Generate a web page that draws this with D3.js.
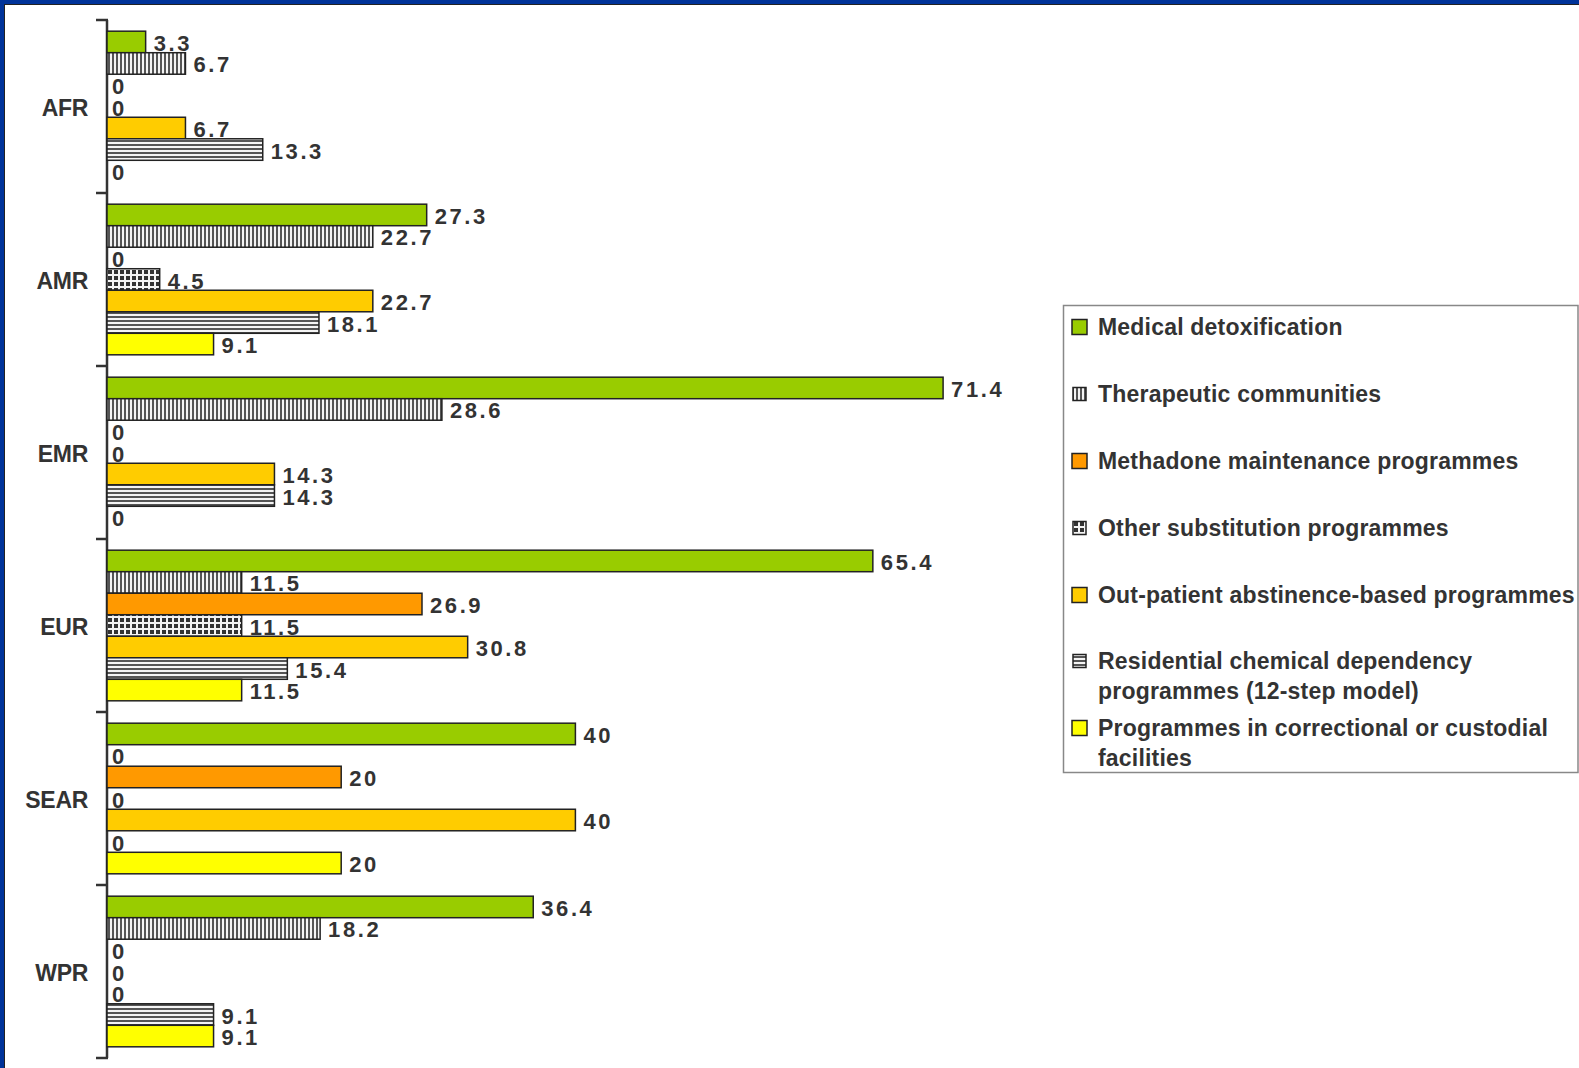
<!DOCTYPE html>
<html>
<head>
<meta charset="utf-8">
<script src="https://cdn.jsdelivr.net/npm/d3@7"></script>
<style>
  body { margin: 0; background: #ffffff; }
  svg text { font-family: "Liberation Sans", Arial, sans-serif; font-weight: bold; fill: #333; }
</style>
</head>
<body>
<div id="chart"></div>
<script>
// regions (top to bottom)
var regions = ["AFR", "AMR", "EMR", "EUR", "SEAR", "WPR"];

// series, in drawing order inside each region
var seriesNames = [
    "Medical detoxification",
    "Therapeutic communities",
    "Methadone maintenance programmes",
    "Other substitution programmes",
    "Out-patient abstinence-based programmes",
    "Residential chemical dependency|programmes (12-step model)",
    "Programmes in correctional or custodial|facilities"
];
var medicalDetox   = [3.3, 27.3, 71.4, 65.4, 40, 36.4];
var therapeutic    = [6.7, 22.7, 28.6, 11.5, 0, 18.2];
var methadone      = [0, 0, 0, 26.9, 20, 0];
var otherSubst     = [0, 4.5, 0, 11.5, 0, 0];
var outPatient     = [6.7, 22.7, 14.3, 30.8, 40, 0];
var residential    = [13.3, 18.1, 14.3, 15.4, 0, 9.1];
var correctional   = [0, 9.1, 0, 11.5, 20, 9.1];
var seriesValues = [medicalDetox, therapeutic, methadone, otherSubst, outPatient, residential, correctional];

var W = 1579, H = 1068;

var svg = d3.select("#chart").append("svg")
    .attr("width", W)
    .attr("height", H);

// patterns for the hatched series
var defs = svg.append("defs");

var pv = defs.append("pattern").attr("id", "vstripe")
    .attr("patternUnits", "userSpaceOnUse").attr("width", 4).attr("height", 4);
pv.append("rect").attr("width", 4).attr("height", 4).attr("fill", "#f4f4f4");
pv.append("rect").attr("width", 2).attr("height", 4).attr("fill", "#555");

var ph = defs.append("pattern").attr("id", "hstripe")
    .attr("patternUnits", "userSpaceOnUse").attr("width", 4).attr("height", 4);
ph.append("rect").attr("width", 4).attr("height", 4).attr("fill", "#f4f4f4");
ph.append("rect").attr("width", 4).attr("height", 2).attr("fill", "#555");

var pg = defs.append("pattern").attr("id", "grid")
    .attr("patternUnits", "userSpaceOnUse").attr("width", 6).attr("height", 6);
pg.append("rect").attr("width", 6).attr("height", 6).attr("fill", "#f4f4f4");
pg.append("rect").attr("width", 4).attr("height", 4).attr("fill", "#333");

var fills = ["#99cc00", "url(#vstripe)", "#ff9900", "url(#grid)", "#ffcc00", "url(#hstripe)", "#ffff00"];

// blue frame
svg.append("rect").attr("width", W).attr("height", H).attr("fill", "#003399");
svg.append("rect").attr("x", 4).attr("y", 4).attr("width", W).attr("height", H).attr("fill", "#222");
svg.append("rect").attr("x", 5).attr("y", 5).attr("width", W).attr("height", H).attr("fill", "#ffffff");

// scales
var x = d3.scaleLinear().domain([0, 100]).range([107, 1278]);
var y0 = d3.scaleBand().domain(regions).range([20, 1058]).paddingInner(0).paddingOuter(0);
var y1 = d3.scaleBand().domain(d3.range(seriesNames.length))
    .range([0, y0.bandwidth()]).paddingOuter(0.52).paddingInner(0);

// axis line
svg.append("line")
    .attr("x1", 107).attr("x2", 107)
    .attr("y1", y0.range()[0]).attr("y2", y0.range()[1])
    .attr("stroke", "#333").attr("stroke-width", 2.5);

// tick marks at band borders
var borders = regions.map(function(r) { return y0(r); }).concat([y0.range()[1]]);
svg.append("g").selectAll("line")
    .data(borders)
    .enter().append("line")
    .attr("x1", 96).attr("x2", 108)
    .attr("y1", function(d) { return d; })
    .attr("y2", function(d) { return d; })
    .attr("stroke", "#333").attr("stroke-width", 2.5);

// region labels
svg.append("g").selectAll("text")
    .data(regions)
    .enter().append("text")
    .attr("x", 88)
    .attr("y", function(d) { return y0(d) + y0.bandwidth() / 2 + 9; })
    .attr("text-anchor", "end")
    .style("font-size", "23px")
    .style("letter-spacing", "-0.3px")
    .text(function(d) { return d; });

// bars
var rows = [];
regions.forEach(function(r, ri) {
    seriesValues.forEach(function(vals, si) {
        rows.push({region: r, s: si, value: vals[ri]});
    });
});

var bars = svg.append("g");
bars.selectAll("rect")
    .data(rows.filter(function(d) { return d.value > 0; }))
    .enter().append("rect")
    .attr("x", x(0))
    .attr("y", function(d) { return y0(d.region) + y1(d.s); })
    .attr("width", function(d) { return x(d.value) - x(0); })
    .attr("height", y1.bandwidth())
    .attr("fill", function(d) { return fills[d.s]; })
    .attr("stroke", "#222")
    .attr("stroke-width", 1.5);

// value labels
bars.selectAll("text")
    .data(rows)
    .enter().append("text")
    .attr("x", function(d) { return d.value > 0 ? x(d.value) + 8 : x(0) + 5; })
    .attr("y", function(d) { return y0(d.region) + y1(d.s) + y1.bandwidth() / 2 + 9; })
    .style("font-size", "22px")
    .style("letter-spacing", "2.6px")
    .text(function(d) { return d.value; });

// legend
var legend = svg.append("g");
legend.append("rect")
    .attr("x", 1063.5).attr("y", 305.5)
    .attr("width", 1578 - 1063.5).attr("height", 467)
    .attr("fill", "#fff").attr("stroke", "#888").attr("stroke-width", 1.5);

var legendY = [327, 394, 461, 528, 595, 661, 728];
seriesNames.forEach(function(name, i) {
    var hatched = fills[i].indexOf("url") == 0;
    var sz = hatched ? 13 : 15;
    legend.append("rect")
        .attr("x", 1072 + (15 - sz) / 2).attr("y", legendY[i] - sz / 2)
        .attr("width", sz).attr("height", sz)
        .attr("fill", fills[i])
        .attr("stroke", "#222").attr("stroke-width", 1.5);
    name.split("|").forEach(function(line, li) {
        legend.append("text")
            .attr("x", 1098)
            .attr("y", legendY[i] + 8 + li * 30)
            .style("font-size", "23px")
            .style("letter-spacing", "0.2px")
            .text(line);
    });
});
</script>
</body>
</html>
